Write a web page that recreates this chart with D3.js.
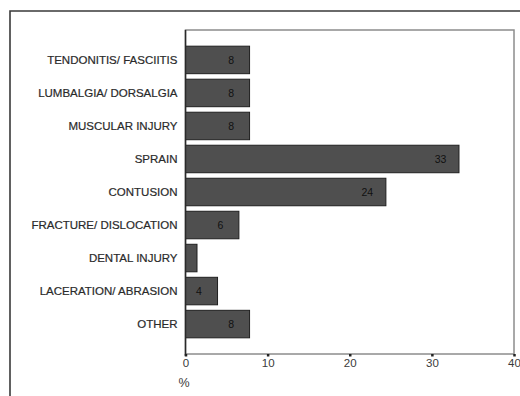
<!DOCTYPE html>
<html>
<head>
<meta charset="utf-8">
<script src="https://cdn.jsdelivr.net/npm/d3@7"></script>
<style>
  html, body { margin: 0; padding: 0; background: #fff; }
  svg { display: block; font-family: "Liberation Sans", Arial, Helvetica, sans-serif; }
</style>
</head>
<body>
<svg id="chart" width="520" height="396"></svg>
<script>
// Injury types, top to bottom, with their share of all injuries (%)
const categories = [
  "TENDONITIS/ FASCIITIS",
  "LUMBALGIA/ DORSALGIA",
  "MUSCULAR INJURY",
  "SPRAIN",
  "CONTUSION",
  "FRACTURE/ DISLOCATION",
  "DENTAL INJURY",
  "LACERATION/ ABRASION",
  "OTHER"
];
const percents = [7.8, 7.8, 7.8, 33.3, 24.4, 6.5, 1.4, 3.9, 7.8];
// Printed value inside each bar (blank where the bar is too short)
const valueLabels = ["8", "8", "8", "33", "24", "6", "", "4", "8"];
const xTicks = [0, 10, 20, 30, 40];
const xTitle = "%";

const data = categories.map((c, i) => ({ cat: c, v: percents[i], lab: valueLabels[i] }));

const svg = d3.select("#chart");
const plot = { left: 185.5, right: 514, top: 30, bottom: 354 };

const x = d3.scaleLinear().domain([0, 40]).range([plot.left, plot.right]);
const y = d3.scaleBand()
  .domain(categories)
  .range([plot.top, plot.bottom])
  .paddingInner(0.167)
  .paddingOuter(0.49);

// Outer frame (top and left edges)
svg.append("path")
  .attr("d", `M10,396 V11 H520`)
  .attr("fill", "none")
  .attr("stroke", "#3a3a3a")
  .attr("stroke-width", 1.6);

// Plot area box
svg.append("rect")
  .attr("x", plot.left).attr("y", plot.top)
  .attr("width", plot.right - plot.left)
  .attr("height", plot.bottom - plot.top)
  .attr("fill", "#fff")
  .attr("stroke", "#8c8c8c")
  .attr("stroke-width", 1.5);

// Bars
svg.append("g").selectAll("rect")
  .data(data)
  .join("rect")
  .attr("x", x(0))
  .attr("y", d => y(d.cat))
  .attr("width", d => x(d.v) - x(0))
  .attr("height", y.bandwidth())
  .attr("fill", "#4f4f4f")
  .attr("stroke", "#1f1f1f")
  .attr("stroke-width", 1);

// Values inside bars
svg.append("g").selectAll("text")
  .data(data.filter(d => d.lab !== ""))
  .join("text")
  .attr("x", d => x(d.v) - 18.5)
  .attr("y", d => y(d.cat) + y.bandwidth() / 2)
  .attr("dy", "0.35em")
  .attr("text-anchor", "middle")
  .attr("font-size", 10.5)
  .attr("fill", "#111")
  .text(d => d.lab);

// Category labels
svg.append("g").selectAll("text")
  .data(data)
  .join("text")
  .attr("x", 177.5)
  .attr("y", d => y(d.cat) + y.bandwidth() / 2)
  .attr("dy", "0.36em")
  .attr("text-anchor", "end")
  .attr("font-size", 11.5)
  .attr("fill", "#2a2a2a")
  .attr("stroke", "#2a2a2a")
  .attr("stroke-width", 0.2)
  .text(d => d.cat);

// Left axis line
svg.append("line")
  .attr("x1", plot.left).attr("x2", plot.left)
  .attr("y1", plot.top).attr("y2", plot.bottom + 2)
  .attr("stroke", "#2a2a2a")
  .attr("stroke-width", 1.5);

// Bottom axis
const xAxis = svg.append("g")
  .attr("transform", `translate(0,${plot.bottom})`)
  .call(d3.axisBottom(x).tickValues(xTicks).tickSize(2.5).tickPadding(2.5));
xAxis.select(".domain").remove();
xAxis.selectAll(".tick line").attr("stroke", "#222").attr("stroke-width", 2.5);
xAxis.selectAll(".tick text")
  .attr("font-size", 11.5)
  .attr("fill", "#3a3a3a")
  .attr("font-family", "'Liberation Sans', Arial, sans-serif");

// Axis title
svg.append("text")
  .attr("x", 184)
  .attr("y", 383)
  .attr("dy", "0.35em")
  .attr("text-anchor", "middle")
  .attr("font-size", 12.5)
  .attr("fill", "#3a3a3a")
  .text(xTitle);
</script>
</body>
</html>
